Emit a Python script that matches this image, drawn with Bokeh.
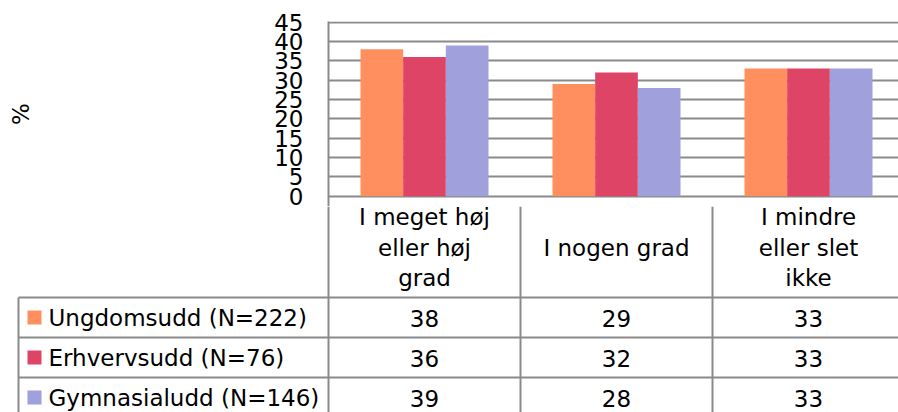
from bokeh.plotting import figure
from bokeh.layouts import column
from bokeh.models import Range1d, FixedTicker, ColumnDataSource
from bokeh.transform import dodge
from bokeh.core.properties import value
from bokeh.embed import file_html
from bokeh.resources import INLINE
import numpy as np

# ---- data ----
categories = ["I meget høj\neller høj\ngrad", "I nogen grad", "I mindre\neller slet\nikke"]
series_names = ["Ungdomsudd (N=222)", "Erhvervsudd (N=76)", "Gymnasialudd (N=146)"]
ungdom = [38, 29, 33]
erhverv = [36, 32, 33]
gymnasial = [39, 28, 33]
y_ticks = [0, 5, 10, 15, 20, 25, 30, 35, 40, 45]
colors = ["#FF8F5F", "#DD4466", "#A0A0DC"]

FONT = "DejaVu Sans"
FS = "23px"
GRID = "#8a8a8a"
W = 898
CAT_PX = 192                         # pixel width of one category
LEFT = 328                           # room for the value axis
TXT_DY = -8.5                        # baseline correction for table texts

series = [ungdom, erhverv, gymnasial]
ncat = len(categories)
cx = np.arange(ncat) + 0.5          # category centres in category units
x_end = (W - LEFT) / CAT_PX         # visible part of the plot area

# ---- bar chart ----
SPLIT = 206
p = figure(width=W, height=SPLIT, x_range=Range1d(0, x_end), y_range=Range1d(-2.664, 45.18),
           x_axis_type=None, output_backend="svg", toolbar_location=None,
           min_border_left=LEFT, min_border_right=0, min_border_top=21, min_border_bottom=0,
           frame_align=False)
p.outline_line_color = None
p.background_fill_color = "white"
p.border_fill_color = "white"

src = ColumnDataSource(dict(x=cx, u=ungdom, e=erhverv, g=gymnasial))
bw = 1 / 1.5 / 3
for k, (col, c) in enumerate(zip(["u", "e", "g"], colors)):
    p.vbar(x=dodge("x", (k - 1) * bw, range=p.x_range), top=col, bottom=0, width=bw,
           source=src, fill_color=c, line_color=None)

ax = p.yaxis[0]
ax.ticker = FixedTicker(ticks=y_ticks)
ax.minor_tick_line_color = None
ax.major_tick_out = 0
ax.major_tick_in = 0
ax.major_label_standoff = 25
ax.major_label_text_font = FONT
ax.major_label_text_font_size = FS
ax.major_label_text_color = "black"
ax.axis_line_color = GRID
ax.axis_line_width = 2
ax.axis_label = "%"
ax.axis_label_text_font = FONT
ax.axis_label_text_font_size = FS
ax.axis_label_text_font_style = "normal"
ax.axis_label_text_color = "black"
ax.axis_label_standoff = 237
p.ygrid.ticker = FixedTicker(ticks=y_ticks)
p.ygrid.grid_line_color = GRID
p.ygrid.grid_line_width = 2

# ---- data table below (y in page pixels) ----
x0 = -LEFT / CAT_PX
T_TOP, T_BOT = SPLIT, 412
t = figure(width=W, height=T_BOT - T_TOP, x_range=Range1d(x0, x_end), y_range=Range1d(T_BOT, T_TOP),
           x_axis_type=None, y_axis_type=None, output_backend="svg", toolbar_location=None,
           min_border=0, frame_align=False)
t.outline_line_color = None
t.xgrid.visible = False
t.ygrid.visible = False
t.background_fill_color = "white"
t.border_fill_color = "white"

header_bottom = 297
row_h = 40
leg_left = (18 - LEFT) / CAT_PX
row_tops = [header_bottom + i * row_h for i in range(len(series))]
row_mid = [r + row_h / 2 for r in row_tops]
row_base = [r + 29 + TXT_DY for r in row_tops]      # text baselines inside rows

# horizontal lines
t.segment(x0=[leg_left] * 3, x1=[x_end] * 3, y0=row_tops, y1=row_tops, line_color=GRID, line_width=2)
# vertical lines
vx = [leg_left] + list(range(ncat))
vy0 = [header_bottom] + [T_TOP] * ncat
t.segment(x0=vx, x1=vx, y0=vy0, y1=[T_BOT] * len(vx), line_color=GRID, line_width=2)

# header labels: one text per line, block centred in the header row
hx, hy, ht = [], [], []
LINE = 30.5
for i, lab in enumerate(categories):
    lines = lab.split("\n")
    n = len(lines)
    for j, ln in enumerate(lines):
        hx.append(cx[i])
        hy.append(255.5 + TXT_DY + (j - (n - 1) / 2) * LINE)
        ht.append(ln)
t.text(x=hx, y=hy, text=ht, text_align="center", text_baseline="alphabetic",
       text_font=value(FONT), text_font_size=FS, text_color="black")

# values
for i, vals in enumerate(series):
    t.text(x=cx, y=[row_base[i]] * ncat, text=[str(v) for v in vals], text_align="center",
           text_baseline="alphabetic", text_font=value(FONT), text_font_size=FS, text_color="black")

# legend keys
t.scatter(x=[(34 - LEFT) / CAT_PX] * 3, y=row_mid, marker="square", size=14, fill_color=colors,
          line_color=None)
t.text(x=[(48 - LEFT) / CAT_PX] * 3, y=row_base, text=series_names, text_align="left",
       text_baseline="alphabetic", text_font=value(FONT), text_font_size=FS, text_color="black")

layout = column(p, t, spacing=0)
open("out.html", "w").write(file_html(layout, INLINE))
